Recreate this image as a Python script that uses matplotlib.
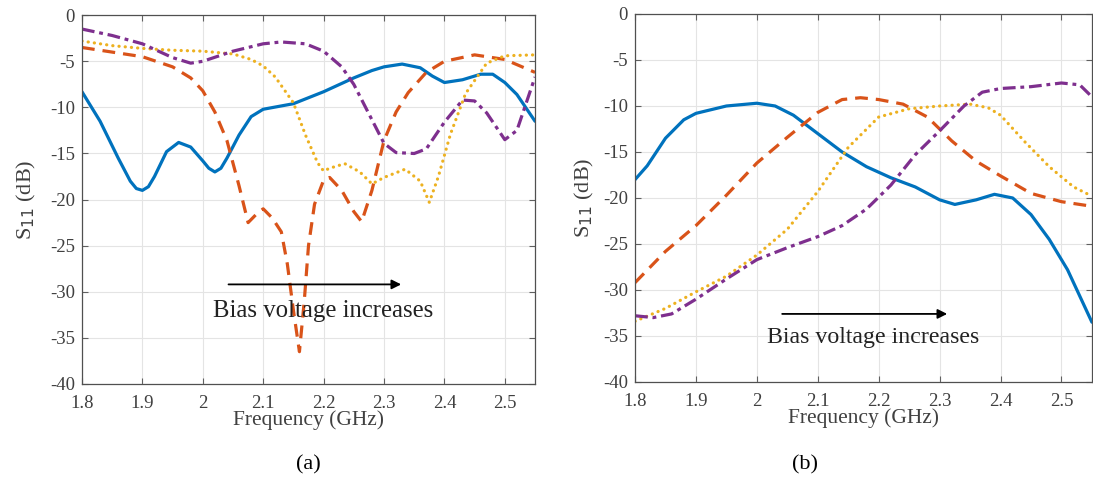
import matplotlib
matplotlib.use("Agg")
import matplotlib.pyplot as plt

plt.rcParams["font.family"] = ["Liberation Serif", "DejaVu Serif"]
plt.rcParams["axes.unicode_minus"] = False

# MATLAB default line colours
BLUE, ORANGE, YELLOW, PURPLE = "#0072BD", "#D95319", "#EDB120", "#7E2F8E"
TXT = "#404040"

# ---- panel (a) ----
a_blue_f = [1.80, 1.83, 1.86, 1.88, 1.89, 1.90, 1.91, 1.92, 1.94, 1.96, 1.98, 2.00, 2.01, 2.02, 2.03,
            2.04, 2.06, 2.08, 2.10, 2.15, 2.20, 2.25, 2.28, 2.30, 2.33, 2.36, 2.38, 2.40, 2.43, 2.46,
            2.48, 2.50, 2.52, 2.55]
a_blue_s = [-8.3, -11.5, -15.5, -18.0, -18.8, -19.0, -18.6, -17.5, -14.8, -13.8, -14.3, -15.8, -16.6, -17.0, -16.6,
            -15.5, -13.0, -11.0, -10.2, -9.6, -8.3, -6.8, -6.0, -5.6, -5.3, -5.7, -6.6, -7.3, -7.0, -6.4,
            -6.4, -7.3, -8.6, -11.5]

a_orange_f = [1.80, 1.85, 1.90, 1.95, 1.98, 2.00, 2.02, 2.04, 2.06, 2.075, 2.09, 2.10, 2.115, 2.13,
              2.14, 2.15, 2.16, 2.168, 2.175, 2.185, 2.20, 2.21, 2.23, 2.25, 2.263, 2.28, 2.30,
              2.32, 2.34, 2.37, 2.40, 2.45, 2.50, 2.55]
a_orange_s = [-3.5, -4.0, -4.5, -5.6, -6.8, -8.2, -10.5, -13.6, -18.5, -22.5, -21.5, -21.0, -22.0, -23.5,
              -27.0, -32.0, -36.5, -31.0, -25.0, -20.5, -17.9, -17.6, -19.0, -21.3, -22.4, -19.0, -13.6,
              -10.5, -8.4, -6.2, -5.0, -4.3, -4.8, -6.2]

a_yellow_f = [1.80, 1.85, 1.90, 1.95, 2.00, 2.05, 2.08, 2.10, 2.12, 2.15, 2.17, 2.19, 2.20, 2.21,
              2.235, 2.26, 2.28, 2.30, 2.335, 2.36, 2.375, 2.39, 2.41, 2.435, 2.47, 2.50, 2.55]
a_yellow_s = [-2.8, -3.3, -3.6, -3.8, -3.9, -4.2, -4.8, -5.5, -6.7, -9.5, -13.0, -16.0, -16.9, -16.6,
              -16.1, -17.0, -18.3, -17.6, -16.7, -18.0, -20.3, -17.5, -12.9, -8.5, -5.2, -4.4, -4.3]

a_purple_f = [1.80, 1.85, 1.90, 1.95, 1.98, 2.00, 2.05, 2.10, 2.13, 2.17, 2.20, 2.23, 2.25, 2.275,
              2.30, 2.32, 2.35, 2.37, 2.40, 2.43, 2.45, 2.47, 2.50, 2.52, 2.55]
a_purple_s = [-1.5, -2.2, -3.1, -4.6, -5.2, -5.0, -3.9, -3.1, -2.9, -3.1, -3.9, -5.6, -7.5, -10.7,
              -13.9, -14.9, -15.0, -14.5, -11.6, -9.2, -9.3, -10.6, -13.5, -12.5, -6.7]

# ---- panel (b) ----
b_blue_f = [1.80, 1.82, 1.85, 1.88, 1.90, 1.95, 2.00, 2.03, 2.06, 2.10, 2.14, 2.18, 2.22, 2.26,
            2.30, 2.325, 2.36, 2.39, 2.42, 2.45, 2.48, 2.51, 2.55]
b_blue_s = [-18.0, -16.5, -13.5, -11.5, -10.8, -10.0, -9.7, -10.0, -11.0, -13.0, -15.0, -16.6, -17.8, -18.8,
            -20.2, -20.7, -20.2, -19.6, -20.0, -21.8, -24.5, -27.8, -33.5]

b_orange_f = [1.80, 1.85, 1.90, 1.95, 2.00, 2.05, 2.10, 2.14, 2.17, 2.20, 2.24, 2.28, 2.32, 2.36,
              2.40, 2.45, 2.50, 2.55]
b_orange_s = [-29.2, -25.8, -23.0, -19.7, -16.2, -13.4, -10.7, -9.3, -9.1, -9.3, -9.8, -11.2, -13.8, -16.0,
              -17.6, -19.5, -20.4, -20.9]

b_yellow_f = [1.80, 1.85, 1.90, 1.95, 2.00, 2.05, 2.10, 2.15, 2.20, 2.25, 2.30, 2.35, 2.38, 2.40,
              2.44, 2.48, 2.52, 2.55]
b_yellow_s = [-33.4, -32.0, -30.2, -28.5, -26.2, -23.4, -19.3, -14.5, -11.2, -10.3, -10.0, -9.8, -10.2, -11.0,
              -13.9, -16.6, -18.8, -19.8]

b_purple_f = [1.80, 1.83, 1.86, 1.90, 1.95, 2.00, 2.05, 2.10, 2.14, 2.18, 2.22, 2.26, 2.30, 2.34,
              2.37, 2.40, 2.45, 2.50, 2.53, 2.55]
b_purple_s = [-32.8, -33.0, -32.6, -31.0, -28.8, -26.7, -25.4, -24.2, -23.0, -21.2, -18.6, -15.3, -12.7, -10.0,
              -8.5, -8.1, -7.9, -7.5, -7.7, -9.0]

x_ticks = [1.8, 1.9, 2.0, 2.1, 2.2, 2.3, 2.4, 2.5]
x_labels = ["1.8", "1.9", "2", "2.1", "2.2", "2.3", "2.4", "2.5"]
y_ticks = [0, -5, -10, -15, -20, -25, -30, -35, -40]


def style(ax):
    ax.set_xlim(1.8, 2.55)
    ax.set_ylim(-40, 0)
    ax.set_xticks(x_ticks)
    ax.set_xticklabels(x_labels)
    ax.set_yticks(y_ticks)
    ax.set_yticklabels([str(v) for v in y_ticks])
    ax.tick_params(direction="in", length=4, width=0.8, colors="#606060", labelcolor=TXT,
                   labelsize=13.5, top=True, right=True, pad=5)
    ax.tick_params(axis="x", pad=8)
    ax.grid(True, color="#e4e4e4", linewidth=0.8)
    ax.set_axisbelow(True)
    for s in ax.spines.values():
        s.set_color("#505050")
        s.set_linewidth(0.9)


def curves(ax, blue, orange, yellow, purple):
    lw = 2.3
    ax.plot(*blue, color=BLUE, lw=lw, solid_capstyle="round", solid_joinstyle="round")
    ax.plot(*orange, color=ORANGE, lw=lw, linestyle=(0, (4, 2.5)))
    ax.plot(*yellow, color=YELLOW, lw=lw, linestyle=(0, (0.05, 1.9)), dash_capstyle="round")
    ax.plot(*purple, color=PURPLE, lw=lw, linestyle=(0, (4, 1.5, 1.2, 1.5)))


fig = plt.figure(figsize=(10.93, 4.91), dpi=100)
ax1 = fig.add_axes([0.075, 0.218, 0.4145, 0.751])
ax2 = fig.add_axes([0.581, 0.222, 0.418, 0.7495])

curves(ax1, (a_blue_f, a_blue_s), (a_orange_f, a_orange_s),
       (a_yellow_f, a_yellow_s), (a_purple_f, a_purple_s))
curves(ax2, (b_blue_f, b_blue_s), (b_orange_f, b_orange_s),
       (b_yellow_f, b_yellow_s), (b_purple_f, b_purple_s))

for ax in (ax1, ax2):
    style(ax)
    ax.set_xlabel("Frequency (GHz)", fontsize=15.5, color=TXT, labelpad=-1)
ax1.set_ylabel("S$_{11}$ (dB)", fontsize=16, color=TXT, labelpad=9)
ax2.set_ylabel("S$_{11}$ (dB)", fontsize=16, color=TXT, labelpad=5)

# annotation arrows
ax1.annotate("", xy=(2.333, -29.2), xytext=(2.038, -29.2),
             arrowprops=dict(arrowstyle="-|>", color="black", lw=1.3, mutation_scale=14))
ax1.text(2.017, -32.1, "Bias voltage increases", fontsize=17.8, va="center", ha="left", color="#222222")
ax2.annotate("", xy=(2.317, -32.6), xytext=(2.037, -32.6),
             arrowprops=dict(arrowstyle="-|>", color="black", lw=1.3, mutation_scale=14))
ax2.text(2.017, -35.2, "Bias voltage increases", fontsize=17.2, va="center", ha="left", color="#222222")

fig.text(308 / 1093, 1 - 465 / 491, "(a)", fontsize=16, ha="center", va="center", color="black")
fig.text(805 / 1093, 1 - 465 / 491, "(b)", fontsize=16, ha="center", va="center", color="black")

fig.savefig("out.png", dpi=100)
